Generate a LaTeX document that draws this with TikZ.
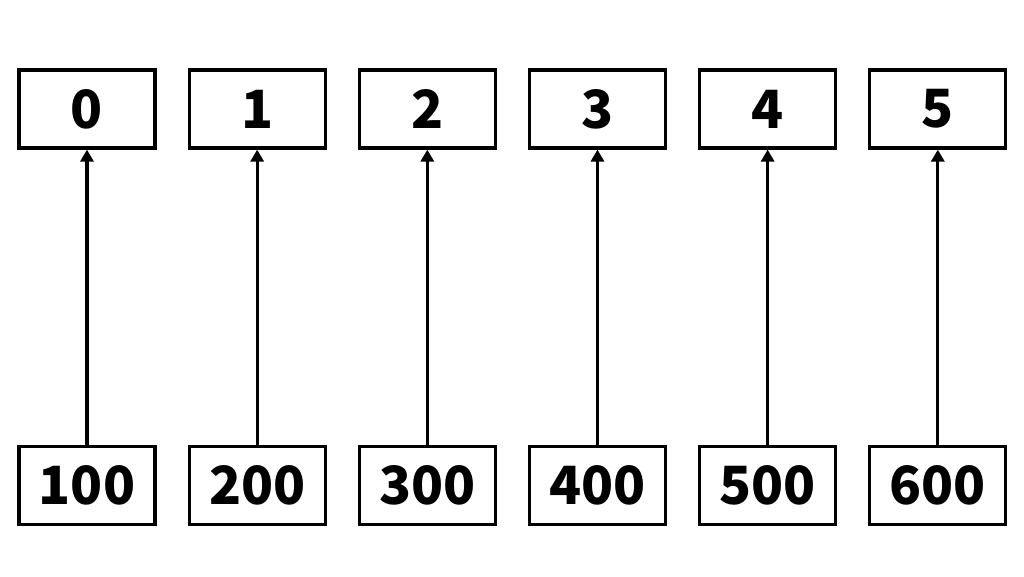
\documentclass[tikz,border=0pt]{standalone}
\usepackage{fontspec}
\setmainfont{Noto Sans CJK JP}
\usetikzlibrary{positioning,arrows.meta}
\tikzset{
	cell/.style={draw, line width=0.9pt, minimum width=1.36cm, minimum height=0.78cm, inner sep=0pt, font=\fontsize{15}{15}\selectfont\bfseries},
	link/.style={-{Triangle[length=0.12cm,width=0.13cm]}, line width=0.9pt},
}
\begin{document}
\begin{tikzpicture}
	\useasboundingbox (0,0) rectangle (10.24,5.76);
	\node [cell] (a0) at (0.87,4.67) {0};
	\node [cell, right=0.31cm of a0] (a1) {1};
	\node [cell, right=0.31cm of a1] (a2) {2};
	\node [cell, right=0.31cm of a2] (a3) {3};
	\node [cell, right=0.31cm of a3] (a4) {4};
	\node [cell, right=0.31cm of a4] (a5) {5};
	\node [cell, below=2.95cm of a0] (b1) {100};
	\node [cell, right=0.31cm of b1] (b2) {200};
	\node [cell, right=0.31cm of b2] (b3) {300};
	\node [cell, right=0.31cm of b3] (b4) {400};
	\node [cell, right=0.31cm of b4] (b5) {500};
	\node [cell, right=0.31cm of b5] (b6) {600};
	
	\draw [link] (b1) -- (a0);
	\draw [link] (b2) -- (a1);
	\draw [link] (b3) -- (a2);
	\draw [link] (b4) -- (a3);
	\draw [link] (b5) -- (a4);
	\draw [link] (b6) -- (a5);
\end{tikzpicture}
\end{document}
